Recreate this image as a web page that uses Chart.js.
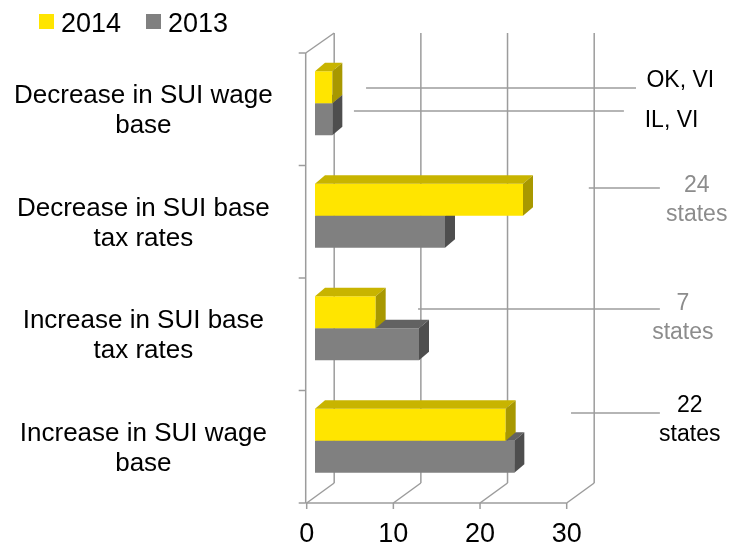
<!DOCTYPE html>
<html>
<head>
<meta charset="utf-8">
<script src="https://cdn.jsdelivr.net/npm/chart.js@4"></script>
<style>
  html, body { margin: 0; padding: 0; background: #fff; }
</style>
</head>
<body>
<canvas id="chart" width="731" height="545"></canvas>
<script>
"use strict";
const CATEGORIES = [
  ["Decrease in SUI wage", "base"],
  ["Decrease in SUI base", "tax rates"],
  ["Increase in SUI base", "tax rates"],
  ["Increase in SUI wage", "base"],
];
const SERIES_LABELS = ["2014", "2013"];
const VALUES_2014 = [2, 24, 7, 22];
const VALUES_2013 = [2, 15, 12, 23];
const X_MIN = 0;
const X_MAX = 30;
const X_STEP = 10;
const CALLOUT_TEXTS = [["OK, VI"], ["IL, VI"], ["24", "states"], ["7", "states"], ["22", "states"]];

const FONT = "'Liberation Sans', Arial, sans-serif";
const GRID = "#9c9c9c";
// depth of the walls, offset of the bar plane, depth of each bar
const WALL = { x: 27.5, y: -20 };
const SHIFT = { x: 8.3, y: -6 };
const BAR = { x: 10, y: -8.5 };

// where each callout sits: category, line offset, line from/to (axis values), text anchor
const CALLOUT_LAYOUT = [
  { cat: 0, dy: -21.25, from: 6.85, to: 38, tx: 39.2, align: "left", base: -1, color: "#000" },
  { cat: 0, dy: 1.75, from: 5.45, to: 36.6, tx: 39.0, align: "left", base: 16, color: "#000" },
  { cat: 1, dy: -33.75, from: 32.55, to: 40.75, tx: 45.0, align: "center", base: 4, color: "#8c8c8c" },
  { cat: 2, dy: -25.25, from: 12.85, to: 40.75, tx: 43.4, align: "center", base: 1, color: "#8c8c8c" },
  { cat: 3, dy: -33.75, from: 30.5, to: 40.75, tx: 44.2, align: "center", base: -1, color: "#000" },
];

function line(ctx, x0, y0, x1, y1) {
  ctx.beginPath();
  ctx.moveTo(x0, y0);
  ctx.lineTo(x1, y1);
  ctx.stroke();
}

function poly(ctx, pts, color) {
  ctx.beginPath();
  ctx.moveTo(pts[0][0], pts[0][1]);
  for (let i = 1; i < pts.length; i++) ctx.lineTo(pts[i][0], pts[i][1]);
  ctx.closePath();
  ctx.fillStyle = color;
  ctx.fill();
}

function noPadding(s) {
  s.paddingTop = 0;
  s.paddingBottom = 0;
  s.paddingLeft = 0;
  s.paddingRight = 0;
}

const threeD = {
  id: "threeD",
  beforeDatasetsDraw(chart) {
    const ctx = chart.ctx;
    const a = chart.chartArea;
    const xs = chart.scales.x;
    const ys = chart.scales.y;
    ctx.save();
    ctx.strokeStyle = GRID;
    ctx.lineWidth = 1.5;
    for (let v = X_MIN; v <= X_MAX; v += X_STEP) {
      const px = xs.getPixelForValue(v);
      line(ctx, px + WALL.x, a.top + WALL.y, px + WALL.x, a.bottom + WALL.y);
      line(ctx, px, a.bottom, px + WALL.x, a.bottom + WALL.y);
      line(ctx, px, a.bottom, px, a.bottom + 6);
    }
    line(ctx, a.left - 1, a.bottom, a.right, a.bottom);
    line(ctx, a.left - 1, a.top, a.left - 1, a.bottom);
    line(ctx, a.left - 1, a.top, a.left + WALL.x, a.top + WALL.y);
    for (let i = 0; i <= CATEGORIES.length; i++) {
      const py = ys.getPixelForValue(i - 0.5);
      line(ctx, a.left - 8, py, a.left - 1, py);
    }
    ctx.restore();
    ctx.save();
    ctx.translate(SHIFT.x, SHIFT.y);
  },
  afterDatasetDraw(chart, args) {
    const ctx = chart.ctx;
    const ds = chart.data.datasets[args.index];
    args.meta.data.forEach((el) => {
      const p = el.getProps(["x", "y", "base", "height"], true);
      const l = Math.min(p.x, p.base);
      const r = Math.max(p.x, p.base);
      const t = p.y - p.height / 2;
      const b = p.y + p.height / 2;
      poly(ctx, [[l, t], [r, t], [r + BAR.x, t + BAR.y], [l + BAR.x, t + BAR.y]], ds.topColor);
      poly(ctx, [[r, t], [r + BAR.x, t + BAR.y], [r + BAR.x, b + BAR.y], [r, b]], ds.sideColor);
    });
  },
  afterDatasetsDraw(chart) {
    const ctx = chart.ctx;
    ctx.restore();
    const xs = chart.scales.x;
    const ys = chart.scales.y;

    // callouts
    ctx.save();
    ctx.strokeStyle = GRID;
    ctx.lineWidth = 1.5;
    ctx.font = "23px " + FONT;
    ctx.textBaseline = "alphabetic";
    CALLOUT_LAYOUT.forEach((c, i) => {
      const y = ys.getPixelForValue(c.cat) + c.dy;
      line(ctx, xs.getPixelForValue(c.from), y, xs.getPixelForValue(c.to), y);
      ctx.fillStyle = c.color;
      ctx.textAlign = c.align;
      CALLOUT_TEXTS[i].forEach((txt, k) => {
        ctx.fillText(txt, xs.getPixelForValue(c.tx), y + c.base + k * 29);
      });
    });
    ctx.restore();

    // legend
    ctx.save();
    ctx.font = "27px " + FONT;
    ctx.textAlign = "left";
    ctx.textBaseline = "alphabetic";
    const lx = [39, 146];
    chart.data.datasets.forEach((ds, i) => {
      ctx.fillStyle = ds.backgroundColor;
      ctx.fillRect(lx[i], 14, 15, 15);
      ctx.fillStyle = "#000";
      ctx.fillText(ds.label, lx[i] + 22, 32);
    });
    ctx.restore();
  },
};

const ctx = document.getElementById("chart").getContext("2d");
new Chart(ctx, {
  type: "bar",
  data: {
    labels: CATEGORIES,
    datasets: [
      {
        label: SERIES_LABELS[0],
        data: VALUES_2014,
        backgroundColor: "#ffe500",
        topColor: "#c8b400",
        sideColor: "#a89800",
      },
      {
        label: SERIES_LABELS[1],
        data: VALUES_2013,
        backgroundColor: "#808080",
        topColor: "#626262",
        sideColor: "#4e4e4e",
      },
    ],
  },
  options: {
    indexAxis: "y",
    responsive: false,
    animation: false,
    borderWidth: 0,
    categoryPercentage: 0.569,
    barPercentage: 1,
    layout: { padding: { top: 53, right: 164.3, left: 0, bottom: 0 } },
    plugins: { legend: { display: false }, tooltip: { enabled: false } },
    scales: {
      x: {
        min: X_MIN,
        max: X_MAX,
        grid: { display: false },
        border: { display: false },
        ticks: {
          stepSize: X_STEP,
          color: "#000",
          padding: 7,
          font: { family: FONT, size: 27 },
        },
        afterFit: (s) => { s.height = 42; noPadding(s); },
      },
      y: {
        grid: { display: false },
        border: { display: false },
        ticks: {
          color: "#000",
          crossAlign: "center",
          padding: 26,
          labelOffset: 2,
          font: { family: FONT, size: 26, lineHeight: 1.15 },
        },
        afterFit: (s) => { s.width = 306.7; noPadding(s); },
      },
    },
  },
  plugins: [threeD],
});
</script>
</body>
</html>
